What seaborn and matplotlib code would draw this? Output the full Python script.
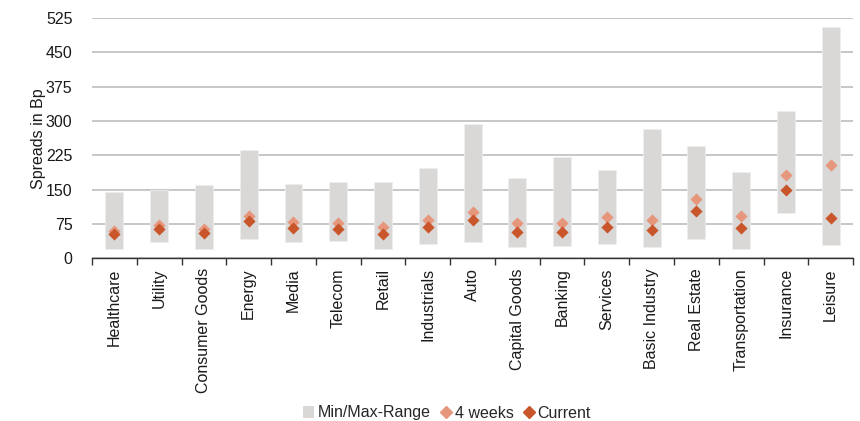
import numpy as np
import pandas as pd
import matplotlib
matplotlib.use("Agg")
import matplotlib.pyplot as plt
from matplotlib.patches import Patch
from matplotlib.lines import Line2D
import seaborn as sns

# Spread ranges by sector (basis points)
categories = ["Healthcare", "Utility", "Consumer Goods", "Energy", "Media", "Telecom",
              "Retail", "Industrials", "Auto", "Capital Goods", "Banking", "Services",
              "Basic Industry", "Real Estate", "Transportation", "Insurance", "Leisure"]
range_min = [21, 35, 20, 43, 35, 39, 21, 31, 35, 26, 28, 31, 26, 43, 21, 100, 29]
range_max = [145, 149, 160, 237, 162, 167, 168, 197, 293, 175, 221, 194, 282, 245, 188, 322, 505]
four_weeks = [61, 74, 65, 93, 80, 78, 69, 83, 101, 77, 78, 90, 84, 130, 92, 183, 204]
current = [53, 64, 56, 82, 66, 64, 54, 68, 84, 57, 57, 69, 63, 104, 66, 149, 89]
y_ticks = [0, 75, 150, 225, 300, 375, 450, 525]

BAR_COLOR = "#D9D8D6"
WEEKS_COLOR = "#E5967B"
CURRENT_COLOR = "#C9562B"

sns.set_theme(style="white")
plt.rcParams["font.family"] = ["Liberation Sans", "DejaVu Sans"]

df = pd.DataFrame({
    "sector": categories,
    "lo": range_min,
    "hi": range_max,
    "weeks": four_weeks,
    "current": current,
})
df["span"] = df["hi"] - df["lo"]

fig = plt.figure(figsize=(8.6, 4.21), dpi=100)
ax = fig.add_axes([0.107, 0.386, 0.885, 0.571])

ax.yaxis.grid(True, color="#BEBEBE", linewidth=1.2)
ax.set_axisbelow(True)

sns.barplot(data=df, x="sector", y="span", order=categories, color=BAR_COLOR,
            width=0.4, saturation=1, edgecolor="#EEEEEE", linewidth=0.6, ax=ax)
# lift each range bar so it spans from its minimum to its maximum
for patch, lo in zip(ax.patches, df["lo"]):
    patch.set_y(lo)

sns.stripplot(data=df, x="sector", y="weeks", order=categories, jitter=False,
              marker="D", size=6.2, color=WEEKS_COLOR, linewidth=0, ax=ax, zorder=3)
sns.stripplot(data=df, x="sector", y="current", order=categories, jitter=False,
              marker="D", size=6.2, color=CURRENT_COLOR, linewidth=0, ax=ax, zorder=4)

ax.set_xlim(-0.5, len(categories) - 0.5)
ax.set_ylim(0, 525)
ax.set_yticks(y_ticks)
ax.set_yticklabels([str(t) for t in y_ticks], fontsize=11.5, color="#1a1a1a")
ax.tick_params(axis="y", length=0, pad=14)

ax.set_xticks(range(len(categories)))
ax.set_xticklabels(categories, rotation=90, fontsize=11.5, color="#1a1a1a")
ax.set_xticks(np.arange(len(categories) + 1) - 0.5, minor=True)
ax.tick_params(axis="x", which="major", length=0, pad=7)
ax.tick_params(axis="x", which="minor", length=5, width=1, color="#333333", bottom=True)

ax.set_xlabel("")
ax.set_ylabel("Spreads in Bp", fontsize=11.5, color="#1a1a1a", labelpad=0)

for side in ["left", "top", "right"]:
    ax.spines[side].set_visible(False)
ax.spines["bottom"].set_color("#333333")
ax.spines["bottom"].set_linewidth(1.0)

handles = [
    Patch(facecolor=BAR_COLOR, edgecolor="none"),
    Line2D([], [], linestyle="none", marker="D", markersize=6, color=WEEKS_COLOR),
    Line2D([], [], linestyle="none", marker="D", markersize=6, color=CURRENT_COLOR),
]
fig.legend(handles, ["Min/Max-Range", "4 weeks", "Current"], loc="center",
           bbox_to_anchor=(447 / 860, 1 - 413 / 421), ncol=3, frameon=False,
           fontsize=11.5, handlelength=0.7, handleheight=0.7, handletextpad=0.2,
           columnspacing=0.6, borderaxespad=0)

fig.savefig("out.png", dpi=100)
